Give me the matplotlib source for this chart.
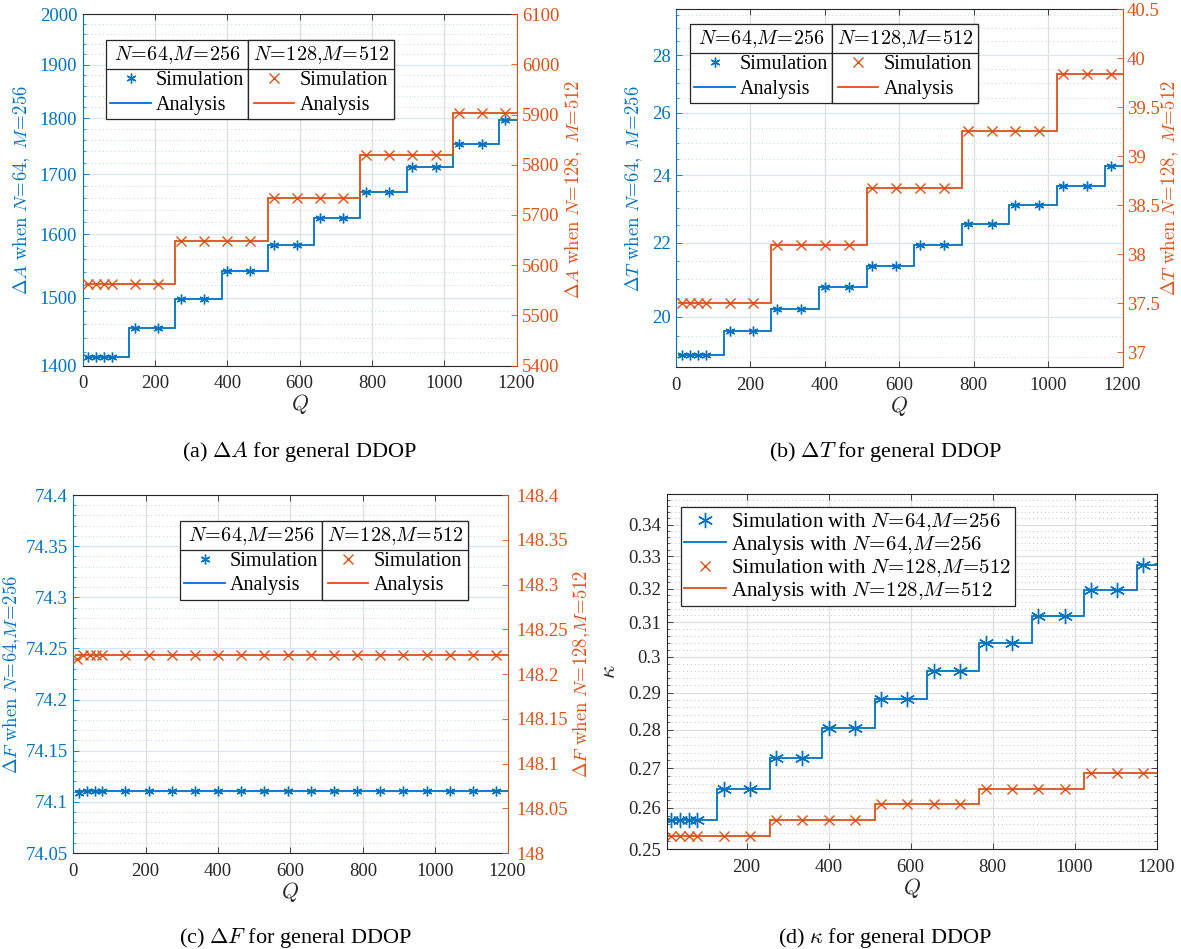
import numpy as np
import matplotlib
matplotlib.use('Agg')
import matplotlib.pyplot as plt
from matplotlib.ticker import FixedLocator, MultipleLocator, FuncFormatter, NullFormatter
from matplotlib.lines import Line2D

plt.rcParams['font.family'] = 'Liberation Serif'
plt.rcParams['mathtext.fontset'] = 'cm'

BLUE = '#0072BD'
ORANGE = '#D95319'
DARK = '#262626'
GRID_GRAY = '#dedede'
GRID_BLUE = '#d6e6f3'

W, H = 1181, 949

# ---------------- data ----------------
# analysis step edges (Q)
edges_64 = [5, 128, 256, 384, 512, 640, 768, 896, 1024, 1152, 1200]
edges_128 = [5, 256, 512, 768, 1024, 1200]
# simulation points (Q)
q_sim = [16, 37, 59, 80, 144, 208, 272, 336, 400, 464, 528, 592, 656, 720,
         784, 848, 912, 976, 1040, 1104, 1168]
q_sim_c128 = [10, 27, 46, 64, 80, 144, 208, 272, 336, 400, 464, 528, 592, 656,
              720, 784, 848, 912, 976, 1040, 1104, 1168]
q_edges_flat = [5, 1200]

# (a) Delta A
dA_64 = [1412, 1455, 1498, 1541, 1583, 1626, 1669, 1712, 1754, 1797]
dA_128 = [5563, 5649, 5733, 5819, 5904]
dA_sim_64 = [1412, 1412, 1412, 1412, 1455, 1455, 1498, 1498, 1541, 1541, 1583,
             1583, 1626, 1626, 1669, 1669, 1712, 1712, 1754, 1754, 1797]
dA_sim_128 = [5563, 5563, 5563, 5563, 5563, 5563, 5649, 5649, 5649, 5649, 5733,
              5733, 5733, 5733, 5819, 5819, 5819, 5819, 5904, 5904, 5904]

# (b) Delta T
dT_64 = [19.05, 19.63, 20.20, 20.79, 21.36, 21.94, 22.54, 23.10, 23.67, 24.27]
dT_128 = [37.50, 38.10, 38.68, 39.26, 39.84]
dT_sim_64 = [19.05, 19.05, 19.05, 19.05, 19.63, 19.63, 20.20, 20.20, 20.79, 20.79,
             21.36, 21.36, 21.94, 21.94, 22.54, 22.54, 23.10, 23.10, 23.67, 23.67,
             24.27]
dT_sim_128 = [37.50, 37.50, 37.50, 37.50, 37.50, 37.50, 38.10, 38.10, 38.10, 38.10,
              38.68, 38.68, 38.68, 38.68, 39.26, 39.26, 39.26, 39.26, 39.84, 39.84,
              39.84]

# (c) Delta F
dF_64 = [74.111]
dF_128 = [148.221]
dF_sim_64 = [74.109, 74.111, 74.111, 74.111, 74.111, 74.111, 74.111, 74.111,
             74.111, 74.111, 74.111, 74.111, 74.111, 74.111, 74.111, 74.111,
             74.111, 74.111, 74.111, 74.111, 74.111]
dF_sim_128 = [148.217, 148.221, 148.221, 148.221, 148.221, 148.221, 148.221,
              148.221, 148.221, 148.221, 148.221, 148.221, 148.221, 148.221,
              148.221, 148.221, 148.221, 148.221, 148.221, 148.221, 148.221,
              148.221]

# (d) kappa
k_64 = [0.2571, 0.2648, 0.2727, 0.2805, 0.2883, 0.2961, 0.3038, 0.3117, 0.3195, 0.3271]
k_128 = [0.2532, 0.2571, 0.2610, 0.2648, 0.2688]
k_sim_64 = [0.2571, 0.2571, 0.2571, 0.2571, 0.2648, 0.2648, 0.2727, 0.2727, 0.2805,
            0.2805, 0.2883, 0.2883, 0.2961, 0.2961, 0.3038, 0.3038, 0.3117, 0.3117,
            0.3195, 0.3195, 0.3271]
k_sim_128 = [0.2532, 0.2532, 0.2532, 0.2532, 0.2532, 0.2532, 0.2571, 0.2571, 0.2571,
             0.2571, 0.2610, 0.2610, 0.2610, 0.2610, 0.2648, 0.2648, 0.2648, 0.2648,
             0.2688, 0.2688, 0.2688]

x_ticks = [0, 200, 400, 600, 800, 1000, 1200]

T64 = r'$N\!=\!64{,}M\!=\!256$'
T128 = r'$N\!=\!128{,}M\!=\!512$'

FS_TICK = 13.5
FS_LAB = 13.5
FS_LEG = 14.5
FS_CAP = 16
LW = 1.3
AST = (6, 2, 0)

fig = plt.figure(figsize=(W / 100, H / 100), dpi=100)


def rect(l, t, r, b):
    return [l / W, 1 - b / H, (r - l) / W, (b - t) / H]


def fmt(v, p):
    return '%g' % round(v, 4)


def style_x(ax, xlim, ticks):
    ax.set_xlim(*xlim)
    ax.xaxis.set_major_locator(FixedLocator(ticks))
    ax.xaxis.set_minor_locator(FixedLocator([]))
    ax.tick_params(axis='x', which='both', direction='in', top=True, length=4,
                   width=0.6, colors=DARK, labelsize=FS_TICK, pad=7)
    ax.xaxis.grid(True, color=GRID_GRAY, lw=0.9)
    ax.set_xlabel(r'$Q$', fontsize=FS_LAB + 2, color=DARK, labelpad=0)
    for s in ('top', 'bottom'):
        ax.spines[s].set_color(DARK)
        ax.spines[s].set_linewidth(0.8)


def yy_panel(r, log_left, ylim_l, yt_l, minor_l, ylim_r, yt_r, rpad=4):
    ax = fig.add_axes(r)
    ax2 = ax.twinx()
    if log_left:
        ax.set_yscale('log')
    ax.set_ylim(*ylim_l)
    ax.yaxis.set_major_locator(FixedLocator(yt_l))
    ax.yaxis.set_minor_locator(MultipleLocator(minor_l))
    ax.yaxis.set_major_formatter(FuncFormatter(fmt))
    ax.yaxis.set_minor_formatter(NullFormatter())
    ax.tick_params(axis='y', which='major', direction='in', length=4, width=0.6,
                   colors=BLUE, labelsize=FS_TICK, pad=4)
    ax.tick_params(axis='y', which='minor', direction='in', length=2.5, width=0.5,
                   colors=BLUE)
    ax.yaxis.grid(True, which='major', color=GRID_BLUE, lw=0.9)
    ax.yaxis.grid(True, which='minor', color='#b9d6ec', lw=0.7, ls=(0, (1, 3)))
    ax.set_axisbelow(True)
    ax.spines['left'].set_color(BLUE)
    ax.spines['left'].set_linewidth(0.8)
    ax.spines['right'].set_visible(False)

    ax2.set_ylim(*ylim_r)
    ax2.yaxis.set_major_locator(FixedLocator(yt_r))
    ax2.yaxis.set_major_formatter(FuncFormatter(fmt))
    ax2.tick_params(axis='y', which='major', direction='in', length=4, width=0.6,
                    colors=ORANGE, labelsize=FS_TICK, pad=rpad)
    ax2.spines['right'].set_color(ORANGE)
    ax2.spines['right'].set_linewidth(0.8)
    for s in ('left', 'top', 'bottom'):
        ax2.spines[s].set_visible(False)
    return ax, ax2


def two_legends(ax, h64, h128, x, y):
    kw = dict(loc='upper left', bbox_transform=fig.transFigure, frameon=True,
              fancybox=False, edgecolor=DARK, framealpha=1, fontsize=FS_LEG,
              title_fontsize=FS_LEG, handlelength=2.0, labelspacing=0.25,
              borderpad=0.22, handletextpad=0.25, borderaxespad=0)
    leg1 = ax.legend(h64, ['Simulation', 'Analysis'], title=T64,
                     bbox_to_anchor=(x / W, 1 - y / H), **kw)
    leg1.get_frame().set_linewidth(0.9)
    ax.add_artist(leg1)
    fig.canvas.draw()
    bb = leg1.get_window_extent()
    leg2 = ax.legend(h128, ['Simulation', 'Analysis'], title=T128,
                     bbox_to_anchor=(bb.x1 / W, bb.y1 / H), **kw)
    leg2.get_frame().set_linewidth(0.9)
    ax.add_artist(leg2)
    fig.canvas.draw()
    for leg in (leg1, leg2):
        lb = leg.get_window_extent()
        tb = leg.get_title().get_window_extent()
        ysep = tb.y0 - 3
        fig.add_artist(Line2D([lb.x0 / W, lb.x1 / W], [ysep / H, ysep / H],
                              transform=fig.transFigure, color=DARK, lw=0.9))


def caption(x, y, s):
    fig.text(x / W, 1 - y / H, s, ha='center', va='center', fontsize=FS_CAP,
             color='black')


# ---------------- (a) ----------------
ax, ax2 = yy_panel(rect(82.7, 14.3, 516.5, 365.5), True, (1400, 2000),
                   [1400, 1500, 1600, 1700, 1800, 1900, 2000], 20,
                   (5400, 6100), [5400, 5500, 5600, 5700, 5800, 5900, 6000, 6100])
style_x(ax, (0, 1200), x_ticks)
s1 = ax.stairs(dA_64, edges_64, baseline=None, color=BLUE, lw=LW)
p1, = ax.plot(q_sim, dA_sim_64, ls='none', marker=AST, ms=7, mew=1.0, color=BLUE)
s2 = ax2.stairs(dA_128, edges_128, baseline=None, color=ORANGE, lw=LW)
p2, = ax2.plot(q_sim, dA_sim_128, ls='none', marker='x', ms=7, mew=1.0, color=ORANGE)
ax.set_ylabel(r'$\Delta A\ \mathrm{when}\ N\!=\!64,\ M\!=\!256$', fontsize=FS_LAB,
              color=BLUE, labelpad=5)
ax2.set_ylabel(r'$\Delta A\ \mathrm{when}\ N\!=\!128,\ M\!=\!512$', fontsize=FS_LAB,
               color=ORANGE, labelpad=3)
two_legends(ax2, [p1, s1], [p2, s2], 106, 40)
caption(300, 452, r'(a) $\Delta A$ for general DDOP')

# ---------------- (b) ----------------
ax, ax2 = yy_panel(rect(676, 9.3, 1122.5, 367), True, (18.75, 29.7),
                   [20, 22, 24, 26, 28], 0.5,
                   (36.85, 40.5), [37, 37.5, 38, 38.5, 39, 39.5, 40, 40.5], rpad=3)
style_x(ax, (0, 1200), x_ticks)
s1 = ax.stairs(dT_64, edges_64, baseline=None, color=BLUE, lw=LW)
p1, = ax.plot(q_sim, dT_sim_64, ls='none', marker=AST, ms=7, mew=1.0, color=BLUE)
s2 = ax2.stairs(dT_128, edges_128, baseline=None, color=ORANGE, lw=LW)
p2, = ax2.plot(q_sim, dT_sim_128, ls='none', marker='x', ms=7, mew=1.0, color=ORANGE)
ax.set_ylabel(r'$\Delta T\ \mathrm{when}\ N\!=\!64,\ M\!=\!256$', fontsize=FS_LAB,
              color=BLUE, labelpad=5)
ax2.set_ylabel(r'$\Delta T\ \mathrm{when}\ N\!=\!128,\ M\!=\!512$', fontsize=FS_LAB,
               color=ORANGE, labelpad=0)
two_legends(ax2, [p1, s1], [p2, s2], 690, 24)
caption(885, 452, r'(b) $\Delta T$ for general DDOP')

# ---------------- (c) ----------------
ax, ax2 = yy_panel(rect(73.3, 495, 507.6, 853), False, (74.05, 74.4),
                   [74.05, 74.1, 74.15, 74.2, 74.25, 74.3, 74.35, 74.4], 0.01,
                   (148, 148.4), [148, 148.05, 148.1, 148.15, 148.2, 148.25, 148.3,
                                  148.35, 148.4], rpad=6)
style_x(ax, (0, 1200), x_ticks)
s1 = ax.stairs(dF_64, q_edges_flat, baseline=None, color=BLUE, lw=LW)
p1, = ax.plot(q_sim, dF_sim_64, ls='none', marker=AST, ms=7, mew=1.0, color=BLUE)
s2 = ax2.stairs(dF_128, q_edges_flat, baseline=None, color=ORANGE, lw=LW)
p2, = ax2.plot(q_sim_c128, dF_sim_128, ls='none', marker='x', ms=7, mew=1.0,
               color=ORANGE)
ax.set_ylabel(r'$\Delta F\ \mathrm{when}\ N\!=\!64{,}M\!=\!256$', fontsize=FS_LAB,
              color=BLUE, labelpad=2)
ax2.set_ylabel(r'$\Delta F\ \mathrm{when}\ N\!=\!128{,}M\!=\!512$', fontsize=FS_LAB,
               color=ORANGE, labelpad=3)
two_legends(ax2, [p1, s1], [p2, s2], 180, 520.7)
caption(295, 938, r'(c) $\Delta F$ for general DDOP')

# ---------------- (d) ----------------
ax = fig.add_axes(rect(666.7, 494, 1156.5, 849.3))
ax.set_yscale('log')
ax.set_ylim(0.25, 0.35)
ax.yaxis.set_major_locator(FixedLocator([0.25, 0.26, 0.27, 0.28, 0.29, 0.30, 0.31,
                                         0.32, 0.33, 0.34]))
ax.yaxis.set_minor_locator(MultipleLocator(0.002))
ax.yaxis.set_major_formatter(FuncFormatter(fmt))
ax.yaxis.set_minor_formatter(NullFormatter())
ax.tick_params(axis='y', which='major', direction='in', right=True, length=4,
               width=0.6, colors=DARK, labelsize=FS_TICK, pad=4)
ax.tick_params(axis='y', which='minor', direction='in', right=True, length=2.5,
               width=0.5, colors=DARK)
ax.yaxis.grid(True, which='major', color=GRID_GRAY, lw=0.9)
ax.yaxis.grid(True, which='minor', color='#c4c4c4', lw=0.7, ls=(0, (1, 3)))
ax.set_axisbelow(True)
for s in ('left', 'right'):
    ax.spines[s].set_color(DARK)
    ax.spines[s].set_linewidth(0.8)
style_x(ax, (5, 1200), [200, 400, 600, 800, 1000, 1200])
p1, = ax.plot(q_sim, k_sim_64, ls='none', marker=AST, ms=11, mew=1.0, color=BLUE)
s1 = ax.stairs(k_64, edges_64, baseline=None, color=BLUE, lw=LW)
p2, = ax.plot(q_sim, k_sim_128, ls='none', marker='x', ms=7.5, mew=1.0, color=ORANGE)
s2 = ax.stairs(k_128, edges_128, baseline=None, color=ORANGE, lw=LW)
ax.set_ylabel(r'$\kappa$', fontsize=FS_LAB + 3, color=DARK, labelpad=6)
leg = ax.legend([p1, s1, p2, s2],
                ['Simulation with ' + T64, 'Analysis with ' + T64,
                 'Simulation with ' + T128, 'Analysis with ' + T128],
                loc='upper left', bbox_to_anchor=(680.6 / W, 1 - 507.3 / H),
                bbox_transform=fig.transFigure, frameon=True, fancybox=False,
                edgecolor=DARK, framealpha=1, fontsize=FS_LEG + 0.5, handlelength=2.0,
                labelspacing=0.03, borderpad=0.18, handletextpad=0.25, borderaxespad=0)
leg.get_frame().set_linewidth(0.9)
caption(885, 938, r'(d) $\kappa$ for general DDOP')

fig.savefig('out.png', dpi=100)
